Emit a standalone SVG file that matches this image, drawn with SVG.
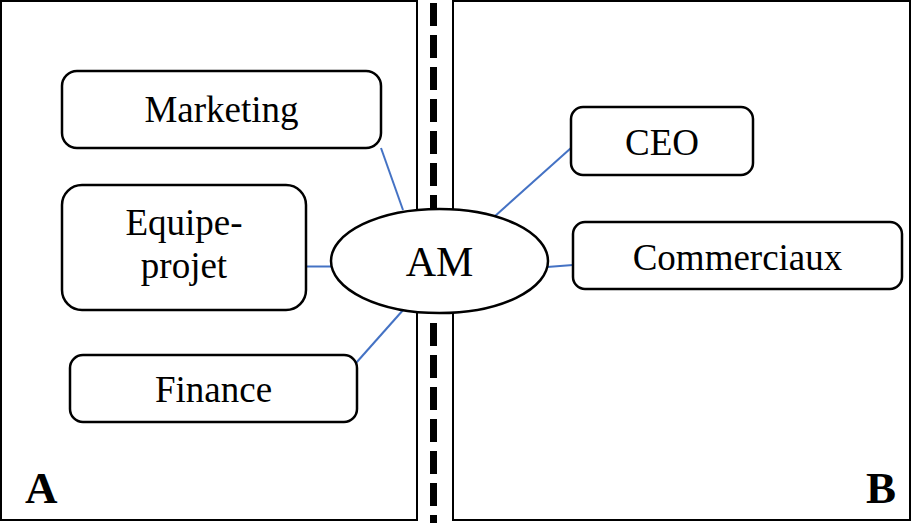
<svg xmlns="http://www.w3.org/2000/svg" width="912" height="523" viewBox="0 0 912 523">
<style>
.panel{fill:#fff;stroke:#000;stroke-width:2}
.box{fill:#fff;stroke:#000;stroke-width:2.5}
.lbl{font-family:"Liberation Serif","Times New Roman",serif;font-size:37px;fill:#000;text-anchor:middle}
.big{font-family:"Liberation Serif","Times New Roman",serif;font-size:45px;font-weight:bold;fill:#000}
.conn{stroke:#4472C4;stroke-width:2;fill:none}
</style>
<g id="panel-A"><rect class="panel" x="1" y="1" width="416" height="519"/><text class="big" x="25" y="503">A</text></g>
<g id="panel-B"><rect class="panel" x="453" y="1" width="457" height="519"/><text class="big" x="896" y="503" text-anchor="end">B</text></g>
<g id="divider"><line x1="433.5" y1="3" x2="433.5" y2="523" stroke="#000" stroke-width="7" stroke-dasharray="23 9"/></g>
<g id="connectors">
<line class="conn" x1="381" y1="148" x2="403" y2="210"/>
<line class="conn" x1="305" y1="266.5" x2="333" y2="266.5"/>
<line class="conn" x1="356" y1="363" x2="404" y2="309"/>
<line class="conn" x1="571" y1="148" x2="494" y2="217"/>
<line class="conn" x1="573" y1="265" x2="547" y2="267"/>
</g>
<g id="node-marketing"><rect class="box" x="62" y="71" width="319" height="77" rx="15"/><text class="lbl" x="221.5" y="122">Marketing</text></g>
<g id="node-equipe"><rect class="box" x="62" y="185" width="244" height="125" rx="20"/><text class="lbl" x="184" y="235">Equipe-</text><text class="lbl" x="184" y="278">projet</text></g>
<g id="node-finance"><rect class="box" x="70" y="355" width="287" height="67" rx="13"/><text class="lbl" x="213.5" y="402">Finance</text></g>
<g id="node-ceo"><rect class="box" x="571" y="107" width="182" height="68" rx="12"/><text class="lbl" x="662" y="155">CEO</text></g>
<g id="node-commerciaux"><rect class="box" x="573" y="222" width="329" height="67" rx="12"/><text class="lbl" x="737.5" y="270">Commerciaux</text></g>
<g id="node-am"><ellipse cx="439.5" cy="261" rx="108.5" ry="52" fill="#fff" stroke="#000" stroke-width="2.5"/><text class="lbl" x="439.5" y="276" style="font-size:42px">AM</text></g>
</svg>
